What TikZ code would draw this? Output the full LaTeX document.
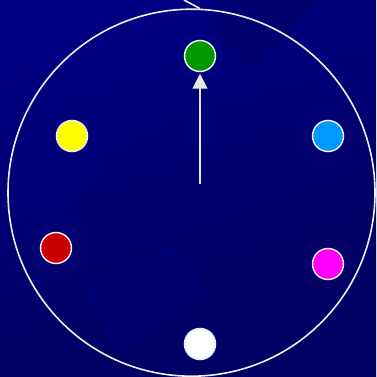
\documentclass[tikz,border=0pt]{standalone}
\usetikzlibrary{arrows.meta}
\definecolor{navytop}{HTML}{000082}
\definecolor{navybot}{HTML}{000060}
\definecolor{navylite}{HTML}{00007E}
\definecolor{navydark}{HTML}{00006A}
\definecolor{rimcol}{HTML}{F0F0F0}
\definecolor{handcol}{HTML}{E8E8E8}
\definecolor{dotgreen}{HTML}{009900}
\definecolor{dotyellow}{HTML}{FFFF00}
\definecolor{dotblue}{HTML}{0099FF}
\definecolor{dotred}{HTML}{CC0000}
\definecolor{dotpink}{HTML}{FF00FF}
\definecolor{dotwhite}{HTML}{FFFFFF}
\tikzset{
	dot/.style={circle,draw=rimcol,line width=1.5pt,minimum size=31pt,inner sep=0pt},
	hand/.style={draw=handcol,line width=1.8pt,-{Triangle[width=15pt,length=15pt]},shorten >=1.5pt}
}
\begin{document}
\begin{tikzpicture}[x=1pt,y=-1pt]
\useasboundingbox (0,0) rectangle (376,377);
% background
\shade[shading=axis,top color=navytop,bottom color=navybot,shading angle=20] (0,0) rectangle (376,377);
\fill[navydark,opacity=0.6] (218,0) -- (208,30) -- (255,67) -- (325,0) -- cycle;
\fill[navylite,opacity=0.4] (20,163) -- (97,157) -- (62,225) -- (20,240) -- cycle;
\fill[navylite,opacity=0.4] (80,282) -- (177,245) -- (205,292) -- (120,353) -- cycle;
\fill[navydark,opacity=0.5] (120,353) -- (205,292) -- (376,240) -- (376,377) -- (124,377) -- cycle;
% dial
\draw[rimcol,line width=1.6pt] (191.5,192.7) circle (183.5);
\coordinate (rim) at (200,8.6);
\draw[rimcol,line width=1.6pt] (184,0) -- (rim);
\foreach \nm/\col/\px/\py in {
	green/dotgreen/200/56,
	yellow/dotyellow/72/136,
	blue/dotblue/328/136,
	red/dotred/56/248,
	pink/dotpink/328/264,
	white/dotwhite/200/344%
	}{
	\node[dot,fill=\col] (\nm) at (\px,\py) {};
	}
\coordinate (centre) at (200,184);
\draw[hand] (centre) -- (green.south);
\end{tikzpicture}
\end{document}
